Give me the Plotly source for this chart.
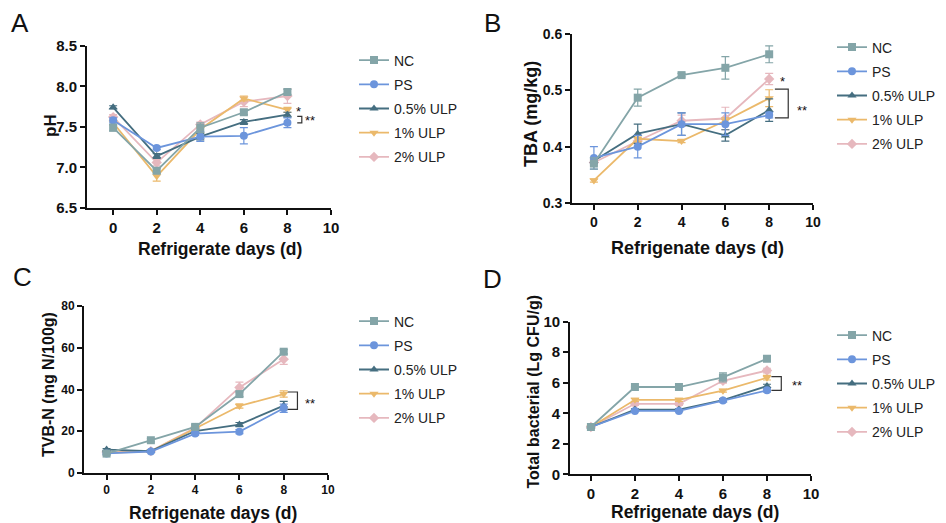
import plotly.graph_objects as go

days = [0, 2, 4, 6, 8]
groups = ["NC", "PS", "0.5% ULP", "1% ULP", "2% ULP"]

# Panel A: pH
ph_nc = [7.49, 6.96, 7.49, 7.68, 7.93]
ph_ps = [7.58, 7.24, 7.38, 7.39, 7.55]
ph_u05 = [7.74, 7.14, 7.38, 7.56, 7.65]
ph_u1 = [7.55, 6.89, 7.47, 7.85, 7.71]
ph_u2 = [7.62, 7.06, 7.53, 7.81, 7.88]
ph_err_nc = [0.04, 0.03, 0.06, 0.03, 0.03]
ph_err_ps = [0.03, 0.02, 0.06, 0.10, 0.06]
ph_err_u05 = [0.02, 0.03, 0.04, 0.03, 0.03]
ph_err_u1 = [0.03, 0.06, 0.04, 0.03, 0.03]
ph_err_u2 = [0.03, 0.04, 0.03, 0.06, 0.09]

# Panel B: TBA (mg/kg)
tba_nc = [0.370, 0.487, 0.527, 0.540, 0.564]
tba_ps = [0.380, 0.400, 0.440, 0.440, 0.456]
tba_u05 = [0.375, 0.423, 0.440, 0.420, 0.465]
tba_u1 = [0.340, 0.414, 0.410, 0.446, 0.486]
tba_u2 = [0.372, 0.410, 0.446, 0.450, 0.520]
tba_err_nc = [0.010, 0.015, 0.003, 0.020, 0.015]
tba_err_ps = [0.020, 0.020, 0.020, 0.020, 0.005]
tba_err_u05 = [0.005, 0.017, 0.020, 0.010, 0.020]
tba_err_u1 = [0.003, 0.005, 0.003, 0.005, 0.015]
tba_err_u2 = [0.005, 0.005, 0.010, 0.020, 0.010]

# Panel C: TVB-N (mg N/100g)
tvb_nc = [9.3, 15.7, 22.1, 37.8, 58.1]
tvb_ps = [9.4, 10.3, 18.9, 19.8, 31.0]
tvb_u05 = [11.2, 10.5, 20.1, 23.2, 32.3]
tvb_u1 = [9.6, 10.4, 21.3, 32.1, 37.8]
tvb_u2 = [10.0, 10.5, 21.6, 41.0, 54.5]
tvb_err_nc = [0.8, 0.8, 1.0, 1.2, 1.0]
tvb_err_ps = [0.5, 0.5, 0.8, 1.0, 2.0]
tvb_err_u05 = [0.5, 0.5, 0.8, 1.0, 2.0]
tvb_err_u1 = [0.5, 0.5, 0.8, 1.0, 1.5]
tvb_err_u2 = [0.5, 0.5, 1.0, 2.5, 2.5]

# Panel D: Total bacterial (Lg CFU/g)
tbc_nc = [3.10, 5.72, 5.72, 6.35, 7.58]
tbc_ps = [3.10, 4.15, 4.15, 4.83, 5.50]
tbc_u05 = [3.10, 4.24, 4.24, 4.86, 5.78]
tbc_u1 = [3.10, 4.88, 4.88, 5.48, 6.33]
tbc_u2 = [3.10, 4.62, 4.62, 6.13, 6.80]
tbc_err_nc = [0.05, 0.05, 0.05, 0.30, 0.10]
tbc_err_ps = [0.05, 0.05, 0.05, 0.08, 0.10]
tbc_err_u05 = [0.05, 0.05, 0.05, 0.08, 0.12]
tbc_err_u1 = [0.05, 0.10, 0.10, 0.10, 0.15]
tbc_err_u2 = [0.05, 0.10, 0.10, 0.15, 0.15]

colors = ["#84a5a8", "#6c95dc", "#456e80", "#ebb96b", "#e6b8be"]
symbols = ["square", "circle", "triangle-up", "triangle-down", "diamond"]

FONT = "Liberation Sans, Arial, sans-serif"

panels = [
    dict(vals=[ph_nc, ph_ps, ph_u05, ph_u1, ph_u2],
         errs=[ph_err_nc, ph_err_ps, ph_err_u05, ph_err_u1, ph_err_u2]),
    dict(vals=[tba_nc, tba_ps, tba_u05, tba_u1, tba_u2],
         errs=[tba_err_nc, tba_err_ps, tba_err_u05, tba_err_u1, tba_err_u2]),
    dict(vals=[tvb_nc, tvb_ps, tvb_u05, tvb_u1, tvb_u2],
         errs=[tvb_err_nc, tvb_err_ps, tvb_err_u05, tvb_err_u1, tvb_err_u2]),
    dict(vals=[tbc_nc, tbc_ps, tbc_u05, tbc_u1, tbc_u2],
         errs=[tbc_err_nc, tbc_err_ps, tbc_err_u05, tbc_err_u1, tbc_err_u2]),
]

fig = go.Figure()
axis_ids = ["", "2", "3", "4"]
legend_ids = ["legend", "legend2", "legend3", "legend4"]

for p, panel in enumerate(panels):
    for i in reversed(range(5)):
        fig.add_trace(go.Scatter(
            x=days, y=panel["vals"][i], name=groups[i],
            mode="lines+markers",
            line=dict(color=colors[i], width=1.8),
            marker=dict(symbol=symbols[i], size=8, color=colors[i]),
            error_y=dict(type="data", array=panel["errs"][i], color=colors[i],
                         thickness=1.2, width=4),
            xaxis="x" + axis_ids[p], yaxis="y" + axis_ids[p],
            legend=legend_ids[p], legendgroup=f"p{p}g{i}", legendrank=i + 1,
        ))

W, H = 946, 523
# axis pixel boxes: (left, right, top, bottom), x range, y range, dtick, format,
# tick font size
boxes = [
    (87, 331, 45.7, 208, [-1.2, 10], [6.5, 8.5], 0.5, ".1f", 15),
    (572, 813, 34, 203, [-1.0, 10], [0.3, 0.6], 0.1, ".1f", 14),
    (84, 328, 306, 473, [-1.02, 10], [0, 80], 20, "d", 12),
    (570, 811, 321.7, 474.3, [-0.95, 10], [0, 10], 2, "d", 15),
]
# axis titles: (text, x center px, y center px, font size)
y_titles = [("pH", 51, 126, 17), ("TBA (mg/kg)", 531, 114, 18),
            ("TVB-N (mg N/100g)", 48, 385, 16),
            ("Total bacterial (Lg CFU/g)", 533, 392.5, 16)]
x_titles = [("Refrigerate days (d)", 219.5, 249, 17.5),
            ("Refrigenate days (d)", 697, 247.5, 18),
            ("Refrigenate days (d)", 212.5, 513, 17.5),
            ("Refrigenate days (d)", 695, 512, 17.5)]

layout = dict(
    width=W, height=H, margin=dict(l=0, r=0, t=0, b=0, autoexpand=False),
    paper_bgcolor="white", plot_bgcolor="white", showlegend=True,
    font=dict(family=FONT, color="#111111"),
)
for k, (l, r, t, b, xr, yr, dt, fmt, tfs) in enumerate(boxes):
    sfx = axis_ids[k]
    common = dict(showline=True, linecolor="#111111", linewidth=1.8, ticks="outside",
                  ticklen=5, tickwidth=1.8, tickcolor="#111111", showgrid=False,
                  zeroline=False, automargin=False,
                  tickfont=dict(family=FONT, size=tfs, color="#111111", weight="bold"))
    layout["xaxis" + sfx] = dict(
        domain=[l / W, r / W], range=xr, anchor="y" + sfx, tickmode="array",
        tickvals=[0, 2, 4, 6, 8, 10], **common)
    layout["yaxis" + sfx] = dict(
        domain=[1 - b / H, 1 - t / H], range=yr, anchor="x" + sfx, dtick=dt,
        tickformat=fmt, **common)

legend_pos = [(354, 59), (832, 46), (354, 320), (832, 334)]
for k, (lx, ly) in enumerate(legend_pos):
    layout[legend_ids[k]] = dict(
        x=lx / W, y=1 - (ly - 14.5) / H, xanchor="left", yanchor="top",
        font=dict(family=FONT, size=14, color="#222222"), tracegroupgap=3,
        bgcolor="rgba(0,0,0,0)", itemclick=False,
    )

fig.update_layout(**layout)

def paper_text(txt, x, y, fs, angle=0, bold=True):
    fig.add_annotation(text=txt, x=x / W, y=1 - y / H, xref="paper", yref="paper",
                       xanchor="center", yanchor="middle", textangle=angle,
                       showarrow=False,
                       font=dict(family=FONT, size=fs, color="#111111",
                                 weight="bold" if bold else "normal"))

for txt, x, y, fs in y_titles:
    paper_text(txt, x, y, fs, angle=-90)
for txt, x, y, fs in x_titles:
    paper_text(txt, x, y, fs)

# panel letters
for txt, x, y in [("A", 20, 23), ("B", 492, 23), ("C", 22, 277), ("D", 492, 279)]:
    paper_text(txt, x, y, 26, bold=False)

# significance brackets (anchored on the day-8 data values)
def bracket(ax, y_top, y_bot, x_arm, x_bar, star1=None, star2=None):
    xr, yr = "x" + ax, "y" + ax
    fig.add_shape(type="path",
                  path=f"M {x_arm},{y_top} L {x_bar},{y_top} L {x_bar},{y_bot} L {x_arm},{y_bot}",
                  xref=xr, yref=yr, line=dict(color="#333333", width=1.2))
    for st, txt in ((star1, "*"), (star2, "**")):
        if st:
            fig.add_annotation(text=txt, x=st[0], y=st[1], xref=xr, yref=yr,
                               xanchor="center", yanchor="middle", showarrow=False,
                               font=dict(family=FONT, size=13, color="#111111"))

bracket("", ph_u05[4] - 0.02, ph_ps[4], 8.45, 8.66,
        star1=(8.5, ph_u1[4] - 0.02), star2=(9.05, (ph_u05[4] + ph_ps[4]) / 2 - 0.02))
bracket("2", 0.502, tba_ps[4] - 0.005, 8.26, 8.87,
        star1=(8.6, tba_u2[4] - 0.005), star2=(9.5, 0.465))
bracket("3", tvb_u1[4] + 1, tvb_ps[4] - 0.5, 8.18, 8.62, star2=(9.2, 33.5))
bracket("4", tbc_u1[4] + 0.07, tbc_ps[4], 8.2, 8.65, star2=(9.38, 5.8))

fig.write_html("out.html", config={"displayModeBar": False},
               post_script="document.body.style.margin='0px';")
